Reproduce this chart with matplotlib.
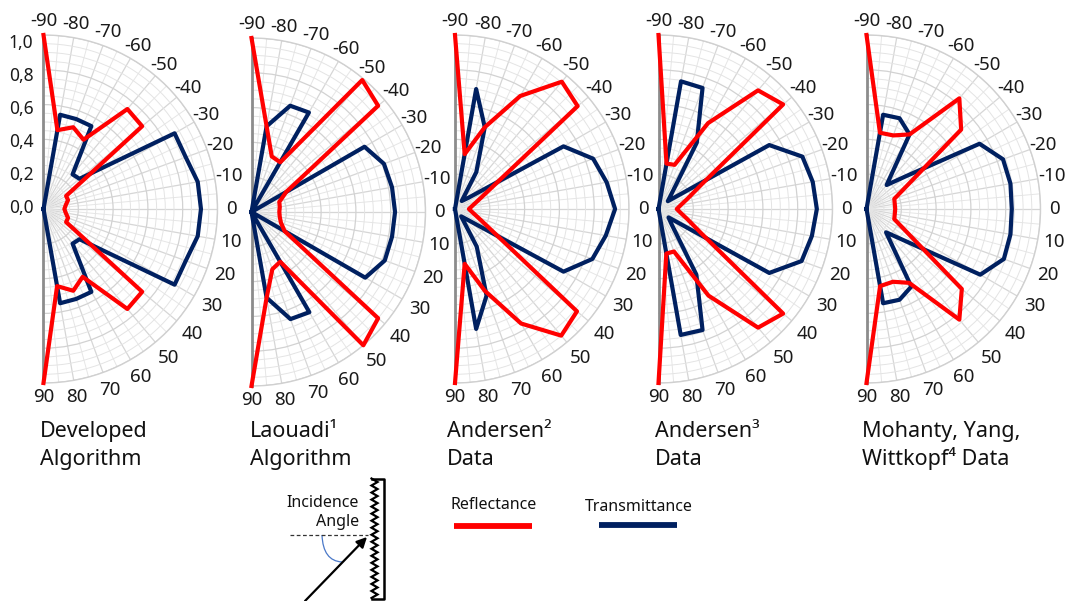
import numpy as np
import matplotlib
matplotlib.use("Agg")
import matplotlib.pyplot as plt
from matplotlib.transforms import offset_copy
from matplotlib.path import Path
from matplotlib.patches import PathPatch

plt.rcParams['font.family'] = ['Noto Sans', 'DejaVu Sans']

# ---------------- data ----------------
angles_deg = list(range(-90, 91, 10))
angle_labels = [str(a) for a in angles_deg]
radial_ticks = [0.0, 0.2, 0.4, 0.6, 0.8, 1.0]
radial_labels = ['0,0', '0,2', '0,4', '0,6', '0,8', '1,0']

titles = [("Developed", "Algorithm"),
          ("Laouadi\u00b9", "Algorithm"),
          ("Andersen\u00b2", "Data"),
          ("Andersen\u00b3", "Data"),
          ("Mohanty, Yang,", "Wittkopf\u2074 Data")]

refl_developed = [1.0, 0.46, 0.50, 0.46, 0.75, 0.74, 0.15, 0.15, 0.13, 0.12,
                  0.13, 0.15, 0.15, 0.74, 0.75, 0.45, 0.50, 0.45, 1.0]
trans_developed = [0.0, 0.55, 0.55, 0.55, 0.26, 0.27, 0.87, 0.87, 0.90, 0.905,
                   0.90, 0.87, 0.87, 0.27, 0.26, 0.55, 0.55, 0.55, 0.0]

refl_laouadi = [1.0, 0.50, 0.34, 0.33, 0.99, 0.95, 0.23, 0.17, 0.165, 0.16,
                0.165, 0.18, 0.22, 0.95, 1.0, 0.33, 0.35, 0.50, 1.0]
trans_laouadi = [0.0, 0.50, 0.65, 0.66, 0.0, 0.0, 0.75, 0.81, 0.82, 0.825,
                 0.82, 0.815, 0.755, 0.0, 0.0, 0.665, 0.655, 0.50, 0.0]

refl_andersen2 = [1.0, 0.32, 0.50, 0.75, 0.955, 0.92, 0.24, 0.14, 0.10, 0.08,
                  0.10, 0.14, 0.24, 0.915, 0.95, 0.76, 0.50, 0.32, 1.0]
trans_andersen2 = [0.0, 0.70, 0.50, 0.245, 0.06, 0.10, 0.72, 0.845, 0.885, 0.92,
                   0.88, 0.84, 0.72, 0.10, 0.055, 0.25, 0.53, 0.70, 0.0]

refl_andersen3 = [1.0, 0.265, 0.27, 0.57, 0.89, 0.935, 0.29, 0.18, 0.13, 0.105,
                  0.13, 0.18, 0.29, 0.935, 0.89, 0.575, 0.26, 0.26, 1.0]
trans_andersen3 = [0.0, 0.745, 0.74, 0.44, 0.12, 0.07, 0.735, 0.88, 0.90, 0.91,
                   0.895, 0.875, 0.735, 0.075, 0.12, 0.435, 0.74, 0.735, 0.0]

refl_mohanty = [1.0, 0.445, 0.45, 0.495, 0.83, 0.71, 0.27, 0.17, 0.165, 0.165,
                0.165, 0.17, 0.27, 0.715, 0.83, 0.49, 0.445, 0.45, 1.0]
trans_mohanty = [0.0, 0.55, 0.555, 0.495, 0.18, 0.29, 0.75, 0.835, 0.84, 0.835,
                 0.84, 0.84, 0.755, 0.28, 0.175, 0.515, 0.555, 0.55, 0.0]

reflectance = [refl_developed, refl_laouadi, refl_andersen2, refl_andersen3, refl_mohanty]
transmittance = [trans_developed, trans_laouadi, trans_andersen2, trans_andersen3, trans_mohanty]

# ---------------- style / layout ----------------
RED = '#ff0000'
NAVY = '#002060'
W, H = 1067, 601
R = 174
centers = [(43.5, 209), (251.5, 212), (455, 209), (658.5, 209), (866.5, 209)]
title_x = [40, 250, 447, 655, 862]

fig = plt.figure(figsize=(W / 100, H / 100), dpi=100)
fig.patch.set_facecolor('white')

theta = np.deg2rad(angles_deg)

for i, (cx, cy) in enumerate(centers):
    rect = [(cx - R / 2) / W, (H - (cy + R)) / H, 2 * R / W, 2 * R / H]
    ax = fig.add_axes(rect, projection='polar')
    ax.set_theta_zero_location('E')
    ax.set_theta_direction(-1)
    ax.set_thetamin(-90)
    ax.set_thetamax(90)
    ax.set_rorigin(0)
    ax.set_ylim(0, 1)
    ax.patch.set_facecolor('none')

    ax.set_xticks(np.deg2rad(np.arange(-90, 91, 10)))
    ax.set_xticks(np.deg2rad(np.arange(-85, 90, 10)), minor=True)
    ax.set_yticks(radial_ticks)
    ax.set_yticks(np.arange(0.05, 1.0, 0.05), minor=True)
    ax.set_xticklabels([])
    ax.set_yticklabels([])
    ax.tick_params(which='both', length=0)
    ax.grid(which='major', axis='x', color='#d6d6d6', lw=0.9)
    ax.grid(which='minor', axis='x', color='#e6e6e6', lw=0.7)
    ax.grid(which='major', axis='y', color='#d2d2d2', lw=0.9)
    ax.grid(which='minor', axis='y', color='#e4e4e4', lw=0.7)
    ax.set_axisbelow(True)

    ax.spines['polar'].set_color('#d0d0d0')
    ax.spines['polar'].set_linewidth(1.0)
    for s in ('start', 'end'):
        ax.spines[s].set_color('#8c8c8c')
        ax.spines[s].set_linewidth(2.0)
    if 'inner' in ax.spines:
        ax.spines['inner'].set_visible(False)

    ax.plot(theta, transmittance[i], color=NAVY, lw=3, solid_joinstyle='round',
            clip_on=False, zorder=3)
    ax.plot(theta, reflectance[i], color=RED, lw=3, solid_joinstyle='round',
            clip_on=False, zorder=4)

    # angle labels
    for a, lab in zip(angles_deg, angle_labels):
        ar = np.deg2rad(a)
        d = 14.0 if a <= 0 else 14.0 + 7.0 * np.sin(2 * ar)
        tr = offset_copy(ax.transData, fig=fig, x=d * np.cos(ar), y=-d * np.sin(ar), units='dots')
        ax.text(ar, 1.0, lab, transform=tr, ha='center', va='center',
                fontsize=13.5, color='#1a1a1a', clip_on=False)

    # radial labels only on first plot
    if i == 0:
        for v, lab in zip(radial_ticks, radial_labels):
            tr = offset_copy(ax.transData, fig=fig, x=-10, y=-(9 * v - 1), units='dots')
            ax.text(np.deg2rad(-90), v, lab, transform=tr, ha='right', va='center',
                    fontsize=12.5, color='#1a1a1a', clip_on=False)

# ---------------- overlay (titles, legend, diagram) ----------------
ov = fig.add_axes([0, 0, 1, 1], zorder=-1)
ov.set_xlim(0, W)
ov.set_ylim(H, 0)
ov.axis('off')

for (l1, l2), x in zip(titles, title_x):
    ov.text(x, 437, l1, fontsize=15.5, ha='left', va='baseline', color='#111111')
    ov.text(x, 465, l2, fontsize=15.5, ha='left', va='baseline', color='#111111')

# legend
ov.text(450, 505, 'Reflectance', fontsize=11.5, ha='left', va='center', color='#111111')
ov.plot([454, 532], [525.5, 525.5], color=RED, lw=4.2, solid_capstyle='butt')
ov.text(585, 507, 'Transmittance', fontsize=11.5, ha='left', va='center', color='#111111')
ov.plot([599, 677], [525, 525], color=NAVY, lw=4.2, solid_capstyle='butt')

# incidence diagram
ov.text(359, 503, 'Incidence', fontsize=11.5, ha='right', va='center', color='#111111')
ov.text(359, 522, 'Angle', fontsize=11.5, ha='right', va='center', color='#111111')
ov.plot([290, 368], [535, 535], color='#333333', lw=0.9, ls=(0, (3, 2)))
arc = Path([(322, 535), (323, 561), (342, 562)], [Path.MOVETO, Path.CURVE3, Path.CURVE3])
ov.add_patch(PathPatch(arc, fill=False, edgecolor='#4a78c8', lw=0.9))
ov.annotate('', xy=(367, 537), xytext=(305, 601),
            arrowprops=dict(arrowstyle='-|>', color='black', lw=1.6,
                            mutation_scale=15, shrinkA=0, shrinkB=0))
n_pts = 35
zy = np.linspace(478.5, 598, n_pts)
zx = np.where(np.arange(n_pts) % 2 == 0, 371.5, 377.5)
ov.plot(zx, zy, color='black', lw=1.6, solid_joinstyle='miter')
ov.plot([371.5, 383.5, 383.5, 371.5], [478.5, 478.5, 598.5, 598.5], color='black', lw=1.8)

fig.savefig('out.png', dpi=100, facecolor='white')
